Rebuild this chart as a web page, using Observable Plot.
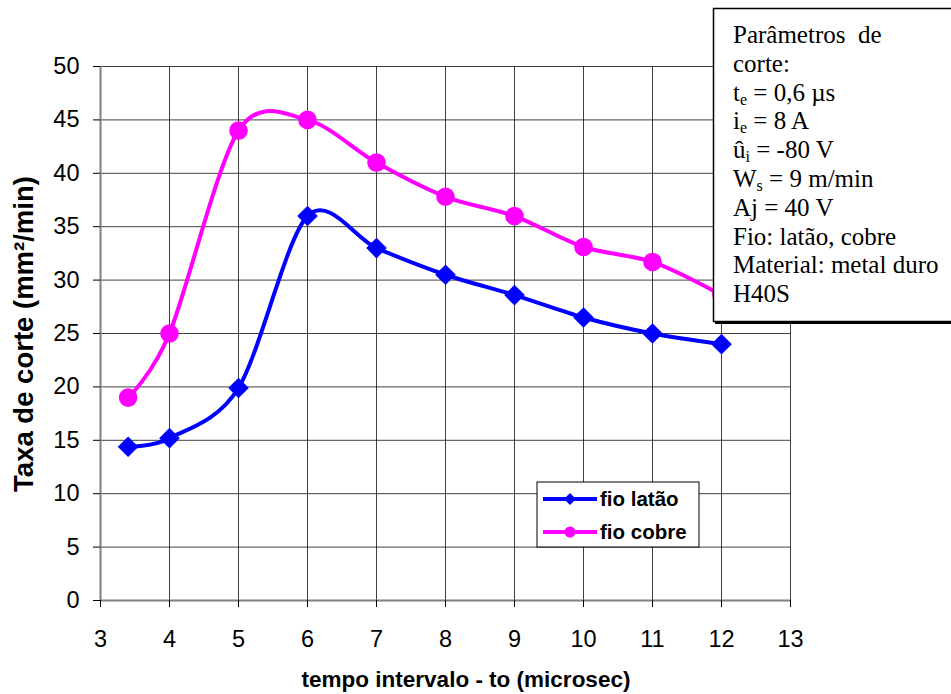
<!DOCTYPE html>
<html><head><meta charset="utf-8">
<script src="https://cdn.jsdelivr.net/npm/d3@7"></script>
<script src="https://cdn.jsdelivr.net/npm/@observablehq/plot@0.6"></script>
<style>body{margin:0;background:#fff} svg{display:block}</style>
</head><body><div id="chart"></div>
<script>
// ---- data ----
const tempo = [3.4, 4, 5, 6, 7, 8, 9, 10, 11, 12];
const latao = [14.4, 15.2, 19.9, 36.0, 33.0, 30.5, 28.6, 26.5, 25.0, 24.0];
const cobre = [19.0, 25.0, 44.0, 45.0, 41.0, 37.8, 36.0, 33.1, 31.7, 28.6];
const seriesNames = ["fio latão", "fio cobre"];
const seriesColors = ["#0000FF", "#FF00FF"];
const seriesSymbols = ["diamond2", "circle"];
const xTicks = [3, 4, 5, 6, 7, 8, 9, 10, 11, 12, 13];
const yTicks = [0, 5, 10, 15, 20, 25, 30, 35, 40, 45, 50];
const xTitle = "tempo intervalo - to (microsec)";
const yTitle = "Taxa de corte (mm²/min)";
// annotation lines: [text, isSubscript]
const paramLines = [
  [["Parâmetros  de"]],
  [["corte:"]],
  [["t"], ["e", 1], [" = 0,6 µs"]],
  [["i"], ["e", 1], [" = 8 A"]],
  [["û"], ["i", 1], [" = -80 V"]],
  [["W"], ["s", 1], [" = 9 m/min"]],
  [["Aj = 40 V"]],
  [["Fio: latão, cobre"]],
  [["Material: metal duro"]],
  [["H40S"]]
];

const rows = [];
tempo.forEach((t, i) => {
  rows.push({t, v: latao[i], s: seriesNames[0]});
  rows.push({t, v: cobre[i], s: seriesNames[1]});
});

const SANS = "'Liberation Sans', Arial, sans-serif";
const SERIF = "'Liberation Serif', 'Times New Roman', serif";

const chart = Plot.plot({
  width: 951,
  height: 694,
  marginLeft: 100,
  marginRight: 161,
  marginTop: 66,
  marginBottom: 94,
  style: {fontFamily: SANS, background: "#fff", overflow: "visible"},
  x: {domain: [3, 13]},
  y: {domain: [0, 50]},
  color: {domain: seriesNames, range: seriesColors},
  symbol: {domain: seriesNames, range: seriesSymbols},
  marks: [
    Plot.gridX(xTicks, {stroke: "#000", strokeOpacity: 0.75, strokeWidth: 1}),
    Plot.gridY(yTicks, {stroke: "#000", strokeOpacity: 0.75, strokeWidth: 1}),
    Plot.ruleX([3], {stroke: "#808080", strokeWidth: 2}),
    Plot.ruleY([0], {stroke: "#808080", strokeWidth: 2}),
    Plot.axisY({ticks: yTicks, tickSize: 7, tickPadding: 14, fontSize: 23.5, label: null, stroke: "#000", color: "#000"}),
    Plot.axisX({ticks: xTicks, tickSize: 7, tickPadding: 23, fontSize: 23.5, label: null, stroke: "#000", color: "#000"}),
    Plot.line(rows, {x: "t", y: "v", z: "s", stroke: "s", strokeWidth: 4, curve: "cardinal", tension: 0.08}),
    Plot.dot(rows, {x: "t", y: "v", fill: "s", symbol: "s", r: 9.3, stroke: "none"})
  ]
});

const svg = d3.select(chart);

// axis titles
svg.append("text")
  .attr("transform", "translate(33,334) rotate(-90)")
  .attr("text-anchor", "middle")
  .style("font-family", SANS).style("font-weight", "bold").style("font-size", "27.5px")
  .attr("fill", "#000")
  .text(yTitle);
svg.append("text")
  .attr("x", 466).attr("y", 687)
  .attr("text-anchor", "middle")
  .style("font-family", SANS).style("font-weight", "bold").style("font-size", "22.5px")
  .attr("fill", "#000")
  .text(xTitle);

// legend
const lg = svg.append("g");
lg.append("rect").attr("x", 537).attr("y", 482).attr("width", 162).attr("height", 65)
  .attr("fill", "#fff").attr("stroke", "#000").attr("stroke-width", 1);
seriesNames.forEach((name, i) => {
  const cy = 499 + i * 33;
  lg.append("line").attr("x1", 543).attr("x2", 597).attr("y1", cy).attr("y2", cy)
    .attr("stroke", seriesColors[i]).attr("stroke-width", 4);
  if (i === 0) {
    lg.append("polygon").attr("points", "0,-6 6,0 0,6 -6,0")
      .attr("transform", `translate(570,${cy})`).attr("fill", seriesColors[i]);
  } else {
    lg.append("circle").attr("cx", 570).attr("cy", cy).attr("r", 5.5).attr("fill", seriesColors[i]);
  }
  lg.append("text").attr("x", 600).attr("y", cy + 7).attr("text-anchor", "start")
    .style("font-family", SANS).style("font-weight", "bold").style("font-size", "20.5px")
    .attr("fill", "#000").text(name);
});

// parameter box
const pb = svg.append("g");
pb.append("rect").attr("x", 715).attr("y", 10).attr("width", 260).attr("height", 314).attr("fill", "#000");
pb.append("rect").attr("x", 713.5).attr("y", 8.5).attr("width", 260).attr("height", 313)
  .attr("fill", "#fff").attr("stroke", "#000").attr("stroke-width", 1.5);
paramLines.forEach((segs, i) => {
  const t = pb.append("text").attr("x", 733).attr("y", 43 + i * 28.8).attr("text-anchor", "start")
    .style("font-family", SERIF).style("font-size", "25px").attr("fill", "#000")
    .attr("xml:space", "preserve").style("white-space", "pre");
  segs.forEach(([s, sub], j) => {
    const ts = t.append("tspan").text(s);
    if (sub) ts.style("font-size", "16px").attr("dy", 4);
    else if (j > 0) ts.attr("dy", -4);
  });
});

document.getElementById("chart").appendChild(chart);
</script>
</body></html>
